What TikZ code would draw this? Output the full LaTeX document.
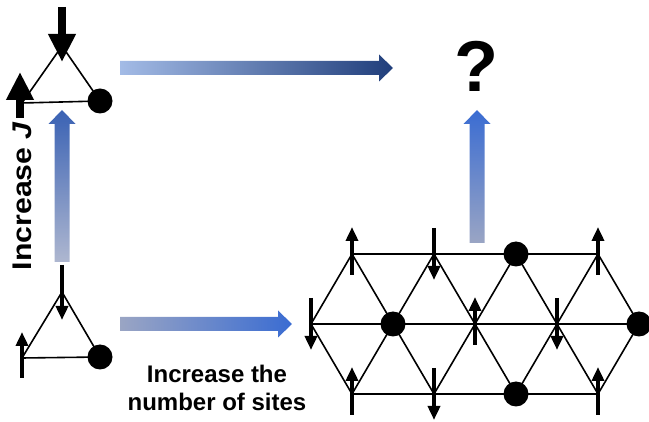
\documentclass[tikz,border=0pt]{standalone}
\usepackage{fontspec}
\setmainfont{Liberation Sans}
\usetikzlibrary{arrows.meta,calc}

\tikzset{
  bond/.style={line width=1.6pt},
  spin/.style={line width=4pt,-{Triangle[width=12pt,length=14pt]}},
  bigspin/.style={line width=8pt,-{Triangle[width=26pt,length=28pt]}},
  hole/.style={circle,fill=black,inner sep=0pt,minimum size=25pt},
  caption/.style={font=\bfseries\fontsize{24}{28}\selectfont,inner sep=0pt}
}
% shaded fat arrows between two named points
\newcommand\fatright[3]{%
  \shade[#1] let \p1=(#2), \p2=(#3) in
    (\x1,\y1+7pt) -- (\x2-14pt,\y1+7pt) -- (\x2-14pt,\y1+13.5pt) -- (\x2,\y1)
    -- (\x2-14pt,\y1-13.5pt) -- (\x2-14pt,\y1-7pt) -- (\x1,\y1-7pt) -- cycle;}
\newcommand\fatup[3]{%
  \shade[#1] let \p1=(#2), \p2=(#3) in
    (\x1-7.5pt,\y1) -- (\x1-7.5pt,\y2-14pt) -- (\x1-13.5pt,\y2-14pt) -- (\x1,\y2)
    -- (\x1+13.5pt,\y2-14pt) -- (\x1+7.5pt,\y2-14pt) -- (\x1+7.5pt,\y1) -- cycle;}

\definecolor{paleblue}{HTML}{A3BBE6}
\definecolor{midblue}{HTML}{3A62B4}
\definecolor{navy}{HTML}{203E7B}
\definecolor{greyblue}{HTML}{9AA5C4}
\definecolor{brightblue}{HTML}{3A6CD2}

\begin{document}
\begin{tikzpicture}[x=1pt,y=-1pt]
  \useasboundingbox (0,0) rectangle (649,422);

  % small triangle, large J
  \coordinate (T1) at (62,46);
  \coordinate (T2) at (22,103);
  \node[hole] (T3) at (100,101) {};
  \draw[bond] (T1) -- (T2) -- (T3.center) -- cycle;
  \draw[bigspin] (62,7) -- (62,62);
  \draw[bigspin] (20,118) -- (20,72);

  % small triangle, small J
  \coordinate (S1) at (62,292);
  \coordinate (S2) at (22,358);
  \node[hole] (S3) at (100,357) {};
  \draw[bond] (S1) -- (S2) -- (S3.center) -- cycle;
  \draw[spin] ($(S1)+(0,-27)$) -- ($(S1)+(0,28)$);
  \draw[spin] ($(S2)+(0,20)$) -- ($(S2)+(0,-26)$);

  % larger lattice
  \foreach \i in {1,...,4} {
    \coordinate (A\i) at ({352+82*(\i-1)},254);
    \coordinate (C\i) at ({352+82*(\i-1)},394);
  }
  \foreach \i in {0,...,4}
    \coordinate (B\i) at ({311+82*\i},324);
  \draw[bond] (A1) -- (A4) (B0) -- (B4) (C1) -- (C4);
  \foreach \i [evaluate=\i as \j using int(\i-1)] in {1,...,4}
    \draw[bond] (B\j) -- (A\i) -- (B\i) -- (C\i) -- (B\j);
  \foreach \s in {A3,B1,B4,C3}
    \node[hole] at (\s) {};
  \foreach \s in {A1,A4,B2,C1,C4}
    \draw[spin] ($(\s)+(0,21)$) -- ($(\s)+(0,-27)$);
  \foreach \s in {A2,B0,B3,C2}
    \draw[spin] ($(\s)+(0,-26)$) -- ($(\s)+(0,26)$);

  % the unknown
  \node[font=\bfseries\fontsize{72}{72}\selectfont,inner sep=0pt] (unknown) at (476,66) {?};

  % fat arrows
  \coordinate (jfrom) at (120,68);   \coordinate (jto) at (393,68);
  \coordinate (nfrom) at (120,324);  \coordinate (nto) at (292,324);
  \coordinate (lfrom) at (62,262);   \coordinate (lto) at (62,110);
  \coordinate (rfrom) at (477,243);  \coordinate (rto) at (477,110);
  \fatright{left color=paleblue,middle color=midblue,right color=navy}{jfrom}{jto}
  \fatright{left color=greyblue,middle color=midblue!70!brightblue,right color=brightblue}{nfrom}{nto}
  \fatup{bottom color=greyblue!80!white,middle color=brightblue,top color=midblue}{lfrom}{lto}
  \fatup{bottom color=greyblue,middle color=midblue,top color=brightblue}{rfrom}{rto}

  % labels
  \node[caption,font=\bfseries\fontsize{27}{28}\selectfont,rotate=90,xscale=1.12,anchor=base] (incJ) at (31,196) {Increase \textit{J}};
  \node[caption,align=center] (incN) at (217,388) {Increase the\\number of sites};
\end{tikzpicture}
\end{document}
